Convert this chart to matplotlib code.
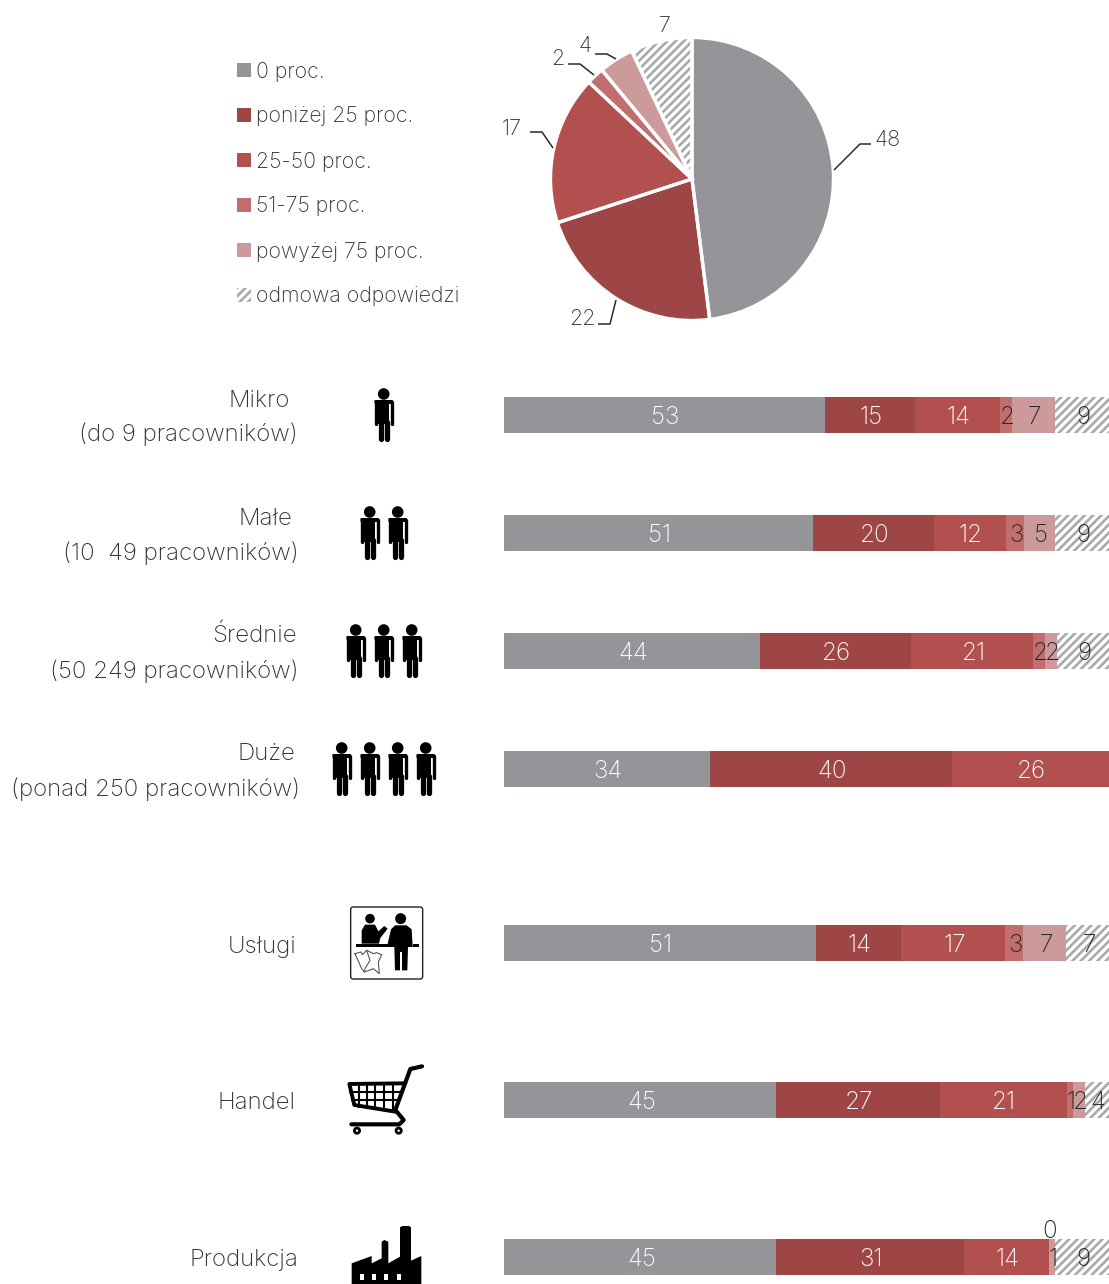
import matplotlib
matplotlib.use('Agg')
import matplotlib.pyplot as plt
from matplotlib.patches import Circle, Polygon, Rectangle, FancyBboxPatch

plt.rcParams['font.family'] = ['Inter', 'DejaVu Sans']
plt.rcParams['hatch.linewidth'] = 1.9

W, H = 1109, 1284
TEXT_COLOR = '#333335'
HATCH_COLOR = '#a9a9ab'

legend_labels = ['0 proc.', 'poniżej 25 proc.', '25-50 proc.', '51-75 proc.',
                 'powyżej 75 proc.', 'odmowa odpowiedzi']
colors = ['#949598', '#9e4546', '#b25050', '#c26d6e', '#cc9a9a', 'white']

pie_values = [48, 22, 17, 2, 4, 7]

size_names = ['Mikro', 'Małe', 'Średnie', 'Duże']
size_ranges = ['(do 9 pracowników)', '(10  49 pracowników)',
               '(50 249 pracowników)', '(ponad 250 pracowników)']
sector_names = ['Usługi', 'Handel', 'Produkcja']

mikro = [53, 15, 14, 2, 7, 9]
male = [51, 20, 12, 3, 5, 9]
srednie = [44, 26, 21, 2, 2, 9]
duze = [34, 40, 26, 0, 0, 0]
uslugi = [51, 14, 17, 3, 7, 7]
handel = [45, 27, 21, 1, 2, 4]
produkcja = [45, 31, 14, 0, 1, 9]

rows = [mikro, male, srednie, duze, uslugi, handel, produkcja]
row_centers = [415, 533, 651, 769, 943, 1100, 1257]
BAR_HEIGHT = 36

fig = plt.figure(figsize=(W / 100, H / 100), dpi=100, facecolor='white')


def px_axes(x0, y0, x1, y1):
    return fig.add_axes([x0 / W, 1 - y1 / H, (x1 - x0) / W, (y1 - y0) / H])


# stacked bars, every row scaled to the full width
ax_bars = px_axes(504, 0, W, H)
ax_bars.set_xlim(0, 100)
ax_bars.set_ylim(H, 0)
ax_bars.axis('off')
for row, yc in zip(rows, row_centers):
    total = sum(row)
    left = 0
    for i, val in enumerate(row):
        share = val * 100 / total
        if i == 5:
            ax_bars.barh(yc, share, left=left, height=BAR_HEIGHT, facecolor='white',
                         edgecolor=HATCH_COLOR, hatch='////', linewidth=0)
        else:
            ax_bars.barh(yc, share, left=left, height=BAR_HEIGHT, color=colors[i], linewidth=0)
        if val > 0 or (i == 3 and row is produkcja):
            label_y = yc + 2.5 if val > 0 else yc - 25
            ax_bars.text(left + share / 2 + 0.2, label_y, str(val), ha='center', va='center',
                         fontsize=17.5, fontweight='light',
                         color='white' if i < 3 else '#2a2a2c')
        left += share

# pie
ax_pie = px_axes(550.5, 37.5, 833.5, 320.5)
wedges, _ = ax_pie.pie(pie_values, colors=colors, startangle=90, counterclock=False, radius=1)
for w in wedges:
    w.set_linewidth(0)
wedges[5].set_edgecolor(HATCH_COLOR)
wedges[5].set_hatch('////')
# white separators go on a second pass so the hatch keeps its grey
ax_pie.pie(pie_values, startangle=90, counterclock=False, radius=1,
           wedgeprops={'facecolor': 'none', 'edgecolor': 'white', 'linewidth': 2.4})
ax_pie.set_xlim(-1, 1)
ax_pie.set_ylim(-1, 1)

# overlay in pixel coordinates for texts and icons
ov = fig.add_axes([0, 0, 1, 1], zorder=5)
ov.set_xlim(0, W)
ov.set_ylim(H, 0)
ov.axis('off')
ov.patch.set_alpha(0)

leaders = [
    ([834, 860, 871], [170, 144, 144], 888, 140, 48),
    ([616, 610, 598], [300, 324, 324], 582, 319, 22),
    ([553, 542, 530], [148, 132, 132], 512, 129, 17),
    ([594, 580, 568], [75, 64, 64], 558, 59, 2),
    ([616, 607, 595], [59, 54, 54], 585, 46, 4),
]
for xs, ys, tx, ty, val in leaders:
    ov.plot(xs, ys, color='#2a2a2c', lw=1.1, solid_capstyle='butt')
    ov.text(tx, ty, str(val), ha='center', va='center', fontsize=15.5, fontweight='light', color=TEXT_COLOR)
ov.text(665, 26, '7', ha='center', va='center', fontsize=15.5, fontweight='light', color=TEXT_COLOR)

# legend
for i, label in enumerate(legend_labels):
    y = 70 + 45 * i
    if i == 5:
        ov.add_patch(Rectangle((237, y - 7), 14, 14, facecolor='white', edgecolor=HATCH_COLOR,
                               hatch='////', linewidth=0))
    else:
        ov.add_patch(Rectangle((237, y - 7), 14, 14, color=colors[i], linewidth=0))
    ov.text(256, y + 1.5, label, ha='left', va='center', fontsize=15.3, fontweight='light', color=TEXT_COLOR)

# row labels
name_ys = [401, 519, 636, 754]
range_ys = [434, 553, 671, 789]
name_rights = [290, 292, 297, 295]
range_rights = [298, 299, 299, 300]
for name, rng, y1, y2, r1, r2 in zip(size_names, size_ranges, name_ys, range_ys, name_rights, range_rights):
    ov.text(r1, y1, name, ha='right', va='center', fontsize=17.3, fontweight='light', color=TEXT_COLOR)
    ov.text(r2, y2, rng, ha='right', va='center', fontsize=17.3, fontweight='light', color=TEXT_COLOR)
for name, y, r in zip(sector_names, [947, 1103, 1260], [296, 296, 298]):
    ov.text(r, y, name, ha='right', va='center', fontsize=17.3, fontweight='light', color=TEXT_COLOR)


def person(cx, y0):
    ov.add_patch(Circle((cx, y0), 5.8, color='black', linewidth=0))
    ov.add_patch(FancyBboxPatch((cx - 8.3, y0 + 7), 16.6, 2, boxstyle='round,pad=1',
                                color='black', linewidth=0))
    ov.add_patch(Rectangle((cx - 5.6, y0 + 7), 11.2, 23, color='black', linewidth=0))
    for dx in (-7.9, 7.9):
        ov.plot([cx + dx, cx + dx], [y0 + 8, y0 + 29.5], color='black', lw=2.4, solid_capstyle='round')
    for dx in (-3.2, 3.2):
        ov.plot([cx + dx, cx + dx], [y0 + 28, y0 + 44.5], color='black', lw=3.8, solid_capstyle='round')


people_rows = [([383.7], 394), ([369.7, 397.7], 512), ([355.7, 383.7, 411.7], 630),
               ([341.7, 369.7, 397.7, 425.7], 748)]
for xs, y0 in people_rows:
    for cx in xs:
        person(cx, y0)


def to_px(pts, x0, y0):
    return [(x0 + x / 3, y0 + y / 3) for x, y in pts]


# services icon
ux, uy = 345, 902
ov.add_patch(FancyBboxPatch((ux + 17 / 3, uy + 15 / 3), 72, 72, boxstyle='round,pad=0,rounding_size=2.5',
                            facecolor='white', edgecolor='#222222', linewidth=1))
ov.add_patch(Circle((ux + 75 / 3, uy + 50 / 3), 4.8, color='black', linewidth=0))
ov.add_patch(Circle((ux + 167 / 3, uy + 50 / 3), 5.5, color='black', linewidth=0))
woman = [(50, 125), (50, 85), (60, 68), (90, 68), (100, 88), (118, 72), (128, 80), (106, 108), (102, 125)]
ov.add_patch(Polygon(to_px(woman, ux, uy), color='black', linewidth=0))
man = [(128, 125), (138, 82), (150, 70), (185, 70), (200, 82), (203, 135), (189, 135), (187, 205), (171, 205),
       (171, 150), (165, 150), (165, 205), (150, 205), (148, 135), (140, 135)]
ov.add_patch(Polygon(to_px(man, ux, uy), color='black', linewidth=0))
ov.add_patch(Polygon(to_px([(32, 127), (148, 127), (148, 135), (32, 135)], ux, uy), color='black', linewidth=0))
ov.add_patch(Polygon(to_px([(205, 127), (222, 127), (222, 135), (205, 135)], ux, uy), color='black', linewidth=0))
ticket_a = [(30, 155), (48, 150), (52, 158), (65, 145), (75, 175), (60, 200), (58, 210), (50, 200), (30, 155)]
ticket_b = [(65, 145), (85, 155), (95, 152), (110, 158), (100, 180), (103, 215), (85, 200), (72, 205), (58, 210)]
for t in (ticket_a, ticket_b):
    xy = to_px(t, ux, uy)
    ov.plot([p[0] for p in xy], [p[1] for p in xy], color='#555555', lw=0.8)

# cart icon
cx0, cy0 = 342, 1060
cart_frame = [(240, 19), (205, 27), (160, 150), (185, 180), (172, 193), (28, 193)]
cart_basket = [(190, 70), (22, 72), (37, 135), (160, 155)]
for line, lw in ((cart_frame, 3.0), (cart_basket, 2.8)):
    xy = to_px(line, cx0, cy0)
    ov.plot([p[0] for p in xy], [p[1] for p in xy], color='black', lw=lw, solid_joinstyle='round',
            solid_capstyle='round')
for zx, top, bottom in [(50, 72, 140), (75, 72, 145), (100, 72, 147), (127, 72, 150), (152, 72, 152)]:
    xy = to_px([(zx, top), (zx, bottom)], cx0, cy0)
    ov.plot([p[0] for p in xy], [p[1] for p in xy], color='black', lw=1.5)
for zy, left, right in [(95, 24, 180), (120, 30, 172)]:
    xy = to_px([(left, zy), (right, zy)], cx0, cy0)
    ov.plot([p[0] for p in xy], [p[1] for p in xy], color='black', lw=1.5)
for zx in (45, 170):
    ov.add_patch(Circle((cx0 + zx / 3, cy0 + 212 / 3), 2.6, facecolor='white', edgecolor='black', linewidth=2))

# factory icon
fx, fy = 345, 1220
factory = [(20, 192), (20, 130), (80, 108), (80, 130), (110, 115), (110, 65), (118, 60), (130, 65), (130, 130),
           (165, 110), (165, 22), (172, 18), (192, 18), (198, 22), (198, 122), (229, 108), (229, 192)]
ov.add_patch(Polygon(to_px(factory, fx, fy), color='black', linewidth=0))
for zx in (44, 81, 118, 155):
    ov.add_patch(Rectangle((fx + zx / 3, fy + 161 / 3), 4, 6.5, color='white', linewidth=0))

fig.savefig('out.png', dpi=100, facecolor='white')
